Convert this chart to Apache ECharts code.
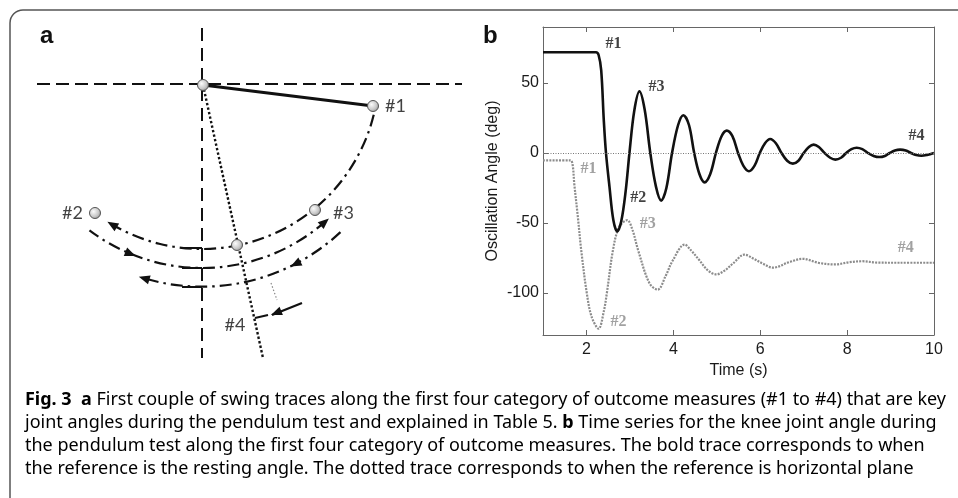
<!DOCTYPE html>
<html><head><meta charset="utf-8">
<script src="https://cdn.jsdelivr.net/npm/echarts@6/dist/echarts.min.js"></script>
<style>html,body{margin:0;padding:0;background:#fff}#chart{width:958px;height:498px}</style>
</head><body><div id="chart"></div>
<script>
// ---------------- Panel b : knee joint angle time series ----------------
const timeTicks = [2, 4, 6, 8, 10];
const angleTicks = [-100, -50, 0, 50];
// bold trace: reference = resting angle  [time (s), angle (deg)]
const restingRefTrace = [
  [1.0, 72], [2.22, 72], [2.28, 70], [2.34, 59], [2.40, 23], [2.45, 0], [2.53, -24], [2.62, -48],
  [2.71, -56], [2.80, -49], [2.90, -28], [2.99, 0], [3.10, 30], [3.22, 44], [3.34, 31], [3.47, 0],
  [3.60, -24], [3.72, -34], [3.84, -25], [3.97, 0], [4.11, 20], [4.23, 27], [4.36, 20], [4.48, 0],
  [4.60, -15], [4.72, -21], [4.85, -15], [4.98, 0], [5.11, 12], [5.23, 16], [5.36, 12], [5.49, 0],
  [5.61, -9], [5.74, -13], [5.87, -9], [5.99, 0], [6.11, 7], [6.23, 10], [6.36, 7], [6.49, 0],
  [6.62, -5.5], [6.75, -7.6], [6.88, -5.5], [7.00, 0], [7.12, 4.3], [7.23, 6], [7.35, 4.3], [7.48, 0],
  [7.61, -3.4], [7.73, -4.7], [7.86, -3.4], [7.98, 0], [8.10, 2.8], [8.22, 3.8], [8.35, 2.8], [8.48, 0],
  [8.61, -2.1], [8.74, -2.9], [8.87, -2.1], [8.98, 0], [9.10, 1.8], [9.22, 2.4], [9.35, 1.8], [9.47, 0],
  [9.59, -1.5], [9.71, -2.0], [9.84, -1.4], [10.0, 0]
];
// dotted trace: reference = horizontal plane
const horizontalRefTrace = [
  [1.0, -5.2], [1.63, -5.2], [1.68, -8], [1.72, -22], [1.80, -45], [1.88, -69.5], [2.01, -100.5],
  [2.12, -117], [2.28, -125.5], [2.40, -113], [2.47, -100], [2.61, -69.5], [2.75, -53], [2.94, -48],
  [3.06, -55], [3.19, -69.5], [3.45, -93], [3.64, -97.6], [3.82, -88], [3.99, -76.6], [4.26, -65.4],
  [4.42, -70], [4.60, -76.6], [4.80, -84], [4.99, -86.7], [5.18, -84], [5.37, -79], [5.64, -72.6],
  [5.85, -75.5], [6.06, -79], [6.29, -81.9], [6.68, -77.8], [6.98, -75.6], [7.35, -78.5], [7.72, -79.6],
  [8.05, -78], [8.35, -77.3], [8.70, -78.3], [9.20, -78.4], [10.0, -78.4]
];
const restingRefTags = [['#1', 2.62, 78], ['#3', 3.61, 47], ['#2', 3.19, -32], ['#4', 9.6, 12.6]];
const horizontalRefTags = [['#1', 2.05, -11], ['#3', 3.41, -50.4], ['#2', 2.74, -120.7], ['#4', 9.35, -67.6]];

// ---------------- Panel a : pendulum schematic (pivot-centred units) ----------------
const crossHairH = [[-165, 0], [260, 0]];
const crossHairV = [[0, 56], [0, -274]];
const restRod = [[1, -1], [171, -22]];
const plumbRod = [[1, -1], [61, -274]];
const angleMarks = [[[-20, -164], [0, -164]], [[-20, -184], [0, -184]], [[-20, -203], [0, -203]]];
const finalMark = [[53, -234], [66, -231]];
const faintGuide = [[69, -199], [75, -216]];
const finalArrow = [[100, -219], [70, -231]];
const markerBalls = [[1, -1], [171, -22], [-107, -129], [113, -126], [35, -161]];
// [cx, cy, r, startDeg, endDeg, midArrowDeg]
const swingArcs = [
  [0, 12, 177, -14, -121, null],
  [0, 3, 187, -127, -48.5, -112],
  [0, 0.3, 203, -47, -107, -63]
];
const diagramTags = [['#1', 183, -22, 'left'], ['#2', -119, -129, 'right'], ['#3', 131, -129, 'left'], ['#4', 33, -241, 'center']];

// ---------------- Caption ----------------
const captionLines = [
  [['b', 'Fig. 3'], ['n', '  '], ['b', 'a'], ['n', ' First couple of swing traces along the first four category of outcome measures (#1 to #4) that are key']],
  [['n', 'joint angles during the pendulum test and explained in Table '], ['l', '5'], ['n', '. '], ['b', 'b'], ['n', ' Time series for the knee joint angle during']],
  [['n', 'the pendulum test along the first four category of outcome measures. The bold trace corresponds to when']],
  [['n', 'the reference is the resting angle. The dotted trace corresponds to when the reference is horizontal plane']]
];

// ---- caption font: humanist sans, condensed horizontally to the original line width ----
const mctx = document.createElement('canvas').getContext('2d');
function hasFont(f) {
  const s = 'mmmmmmmmmmlliWWWabc';
  mctx.font = '40px monospace'; const a = mctx.measureText(s).width;
  mctx.font = '40px "' + f + '", monospace'; return Math.abs(mctx.measureText(s).width - a) > 0.5;
}
function segWidth(segs, fam, size) {
  let w = 0;
  for (const [k, t] of segs) { mctx.font = (k === 'b' ? 'bold ' : '') + size + 'px "' + fam + '"'; w += mctx.measureText(t).width; }
  return w;
}
const capFam = ['Noto Sans', 'Open Sans', 'Lato', 'Liberation Sans'].find(hasFont) || 'sans-serif';
const capSize = 18;
const capScaleX = Math.min(1, 921 / segWidth(captionLines[0], capFam, capSize));
const capRich = {
  n: { fontFamily: capFam, fontSize: capSize, color: '#231f20' },
  b: { fontFamily: capFam, fontSize: capSize, fontWeight: 'bold', color: '#231f20' },
  l: { fontFamily: capFam, fontSize: capSize, color: '#2b2bf0' }
};
const captionBaselines = [407, 430, 453, 476];
const captionGraphics = captionLines.map((segs, i) => ({
  type: 'text', x: 25, y: captionBaselines[i] - capSize * 0.92, scaleX: capScaleX, silent: true,
  style: { text: segs.map(([k, t]) => '{' + k + '|' + t + '}').join(''), rich: capRich, verticalAlign: 'top', align: 'left' }
}));

// ---------------- helpers ----------------
const ink = '#111';
const sansFam = 'Liberation Sans, Arial, sans-serif';
function seg(data, style) {
  return { type: 'line', xAxisIndex: 0, yAxisIndex: 0, data, symbol: 'none', silent: true,
    lineStyle: Object.assign({ color: ink, width: 2 }, style), z: 2 };
}
function head(tx, ty, dx, dy, L, W) {
  const n = Math.hypot(dx, dy); dx /= n; dy /= n;
  const bx = tx - dx * L, by = ty - dy * L;
  return { type: 'polygon', shape: { points: [[tx, ty], [bx - dy * W, by + dx * W], [bx + dy * W, by - dx * W]] }, style: { fill: ink } };
}

const option = {
  animation: false,
  backgroundColor: '#fff',
  graphic: [
    { type: 'rect', shape: { x: 10, y: 10, width: 990, height: 540, r: 13 }, style: { fill: 'none', stroke: '#555', lineWidth: 1.5 }, silent: true, z: -10 },
    { type: 'text', left: 40, top: 24, style: { text: 'a', fontFamily: sansFam, fontWeight: 'bold', fontSize: 24, fill: '#111' } },
    { type: 'text', left: 483, top: 24, style: { text: 'b', fontFamily: sansFam, fontWeight: 'bold', fontSize: 24, fill: '#111' } }
  ].concat(captionGraphics),
  grid: [
    { left: 37, top: 28, width: 425, height: 330, show: false },
    { left: 543, top: 27, width: 391, height: 308, show: false }
  ],
  xAxis: [
    { gridIndex: 0, type: 'value', min: -165, max: 260, show: false },
    { gridIndex: 1, type: 'value', min: 1, max: 10, position: 'bottom',
      axisLine: { show: true, onZero: false, lineStyle: { color: '#666', width: 1 } },
      axisTick: { show: true, inside: true, length: 5, customValues: timeTicks, lineStyle: { color: '#666' } },
      axisLabel: { customValues: timeTicks, margin: 7, color: '#1a1a1a', fontFamily: sansFam, fontSize: 16 },
      splitLine: { show: false },
      name: 'Time (s)', nameLocation: 'middle', nameGap: 25,
      nameTextStyle: { color: '#1a1a1a', fontFamily: sansFam, fontSize: 16 } },
    { gridIndex: 1, type: 'value', min: 1, max: 10, position: 'top',
      axisLine: { show: true, onZero: false, lineStyle: { color: '#666', width: 1 } },
      axisTick: { show: true, inside: true, length: 5, customValues: timeTicks, lineStyle: { color: '#666' } },
      axisLabel: { show: false }, splitLine: { show: false } }
  ],
  yAxis: [
    { gridIndex: 0, type: 'value', min: -274, max: 56, show: false },
    { gridIndex: 1, type: 'value', min: -130, max: 90, position: 'left',
      axisLine: { show: true, onZero: false, lineStyle: { color: '#666', width: 1 } },
      axisTick: { show: true, inside: true, length: 5, customValues: angleTicks, lineStyle: { color: '#666' } },
      axisLabel: { customValues: angleTicks, margin: 4, color: '#1a1a1a', fontFamily: sansFam, fontSize: 16 },
      splitLine: { show: false },
      name: 'Oscillation Angle (deg)', nameLocation: 'middle', nameGap: 42,
      nameTextStyle: { color: '#1a1a1a', fontFamily: sansFam, fontSize: 16 } },
    { gridIndex: 1, type: 'value', min: -130, max: 90, position: 'right',
      axisLine: { show: true, onZero: false, lineStyle: { color: '#666', width: 1 } },
      axisTick: { show: true, inside: true, length: 5, customValues: angleTicks, lineStyle: { color: '#666' } },
      axisLabel: { show: false }, splitLine: { show: false } }
  ],
  series: [
    seg(crossHairH, { type: [13, 6], width: 2 }),
    seg(crossHairV, { type: [13, 7], width: 2 }),
    seg(restRod, { width: 3.2 }),
    seg(plumbRod, { type: [2.4, 2.2], width: 2.4 }),
    ...angleMarks.map(m => seg(m, { width: 2 })),
    seg(finalMark, { width: 2.2 }),
    seg(faintGuide, { type: [1.5, 2], width: 1.2, color: '#888' }),
    seg(finalArrow, { width: 2.2 }),
    {
      type: 'custom', xAxisIndex: 0, yAxisIndex: 0, silent: true, z: 3,
      data: [finalArrow[0].concat(finalArrow[1])],
      encode: { x: 0, y: 1 },
      renderItem(params, api) {
        const a = api.coord([api.value(0), api.value(1)]), b = api.coord([api.value(2), api.value(3)]);
        return head(b[0] - 1, b[1], b[0] - a[0], b[1] - a[1], 11, 4.5);
      }
    },
    {
      type: 'custom', xAxisIndex: 0, yAxisIndex: 0, silent: true, z: 3,
      data: swingArcs, encode: { x: 0, y: 1 },
      renderItem(params, api) {
        const row = swingArcs[params.dataIndex];
        const c = api.coord([row[0], row[1]]);
        const rp = api.size([row[2], 0])[0];
        const d2r = Math.PI / 180;
        const s = -row[3] * d2r, e = -row[4] * d2r;
        const sign = row[4] > row[3] ? 1 : -1;
        const children = [{
          type: 'arc', shape: { cx: c[0], cy: c[1], r: rp, startAngle: Math.min(s, e), endAngle: Math.max(s, e), clockwise: true },
          style: { fill: 'none', stroke: ink, lineWidth: 2.2, lineDash: [12, 5, 2.5, 5] }
        }];
        const arrowAt = (deg) => {
          const t = deg * d2r;
          const px = c[0] + rp * Math.cos(t), py = c[1] - rp * Math.sin(t);
          const dx = sign > 0 ? -Math.sin(t) : Math.sin(t);
          const dy = sign > 0 ? -Math.cos(t) : Math.cos(t);
          return head(px + dx * 4, py + dy * 4, dx, dy, 11, 4.5);
        };
        children.push(arrowAt(row[4]));
        if (row[5] !== null && row[5] !== undefined) children.push(arrowAt(row[5]));
        return { type: 'group', children };
      }
    },
    {
      type: 'scatter', xAxisIndex: 0, yAxisIndex: 0, data: markerBalls, symbolSize: 11, silent: true, z: 6,
      itemStyle: { color: { type: 'radial', x: 0.38, y: 0.38, r: 0.7, colorStops: [{ offset: 0, color: '#fbfbfb' }, { offset: 0.6, color: '#c8c8c8' }, { offset: 1, color: '#8a8a8a' }] },
        borderColor: '#555', borderWidth: 1, opacity: 1 }
    },
    {
      type: 'scatter', xAxisIndex: 0, yAxisIndex: 0, symbolSize: 0, silent: true, z: 7,
      data: diagramTags.map(t => ({ name: t[0], value: [t[1], t[2]], label: { align: t[3] } })),
      label: { show: true, position: 'inside', formatter: '{b}', color: '#111', fontFamily: 'Lato, ' + sansFam, fontSize: 18 }
    },
    {
      type: 'line', xAxisIndex: 1, yAxisIndex: 1, data: horizontalRefTrace, symbol: 'none', smooth: 0.35, silent: true,
      lineStyle: { color: '#8c8c8c', width: 2.2, type: [2, 1.2] }, z: 3
    },
    {
      type: 'line', xAxisIndex: 1, yAxisIndex: 1, data: restingRefTrace, symbol: 'none', smooth: 0.35, silent: true,
      lineStyle: { color: '#111', width: 2.6 }, z: 4,
      markLine: { silent: true, symbol: ['none', 'none'], label: { show: false }, animation: false,
        lineStyle: { color: '#777', width: 1, type: [1, 1.5] }, data: [{ yAxis: 0 }] }
    },
    {
      type: 'scatter', xAxisIndex: 1, yAxisIndex: 1, symbolSize: 0, silent: true, z: 7,
      data: restingRefTags.map(t => ({ name: t[0], value: [t[1], t[2]] })),
      label: { show: true, position: 'inside', formatter: '{b}', color: '#111', fontFamily: 'Liberation Serif, Times New Roman, serif', fontWeight: 'bold', fontSize: 16 }
    },
    {
      type: 'scatter', xAxisIndex: 1, yAxisIndex: 1, symbolSize: 0, silent: true, z: 7,
      data: horizontalRefTags.map(t => ({ name: t[0], value: [t[1], t[2]] })),
      label: { show: true, position: 'inside', formatter: '{b}', color: '#8a8a8a', fontFamily: 'Liberation Serif, Times New Roman, serif', fontWeight: 'bold', fontSize: 16 }
    }
  ]
};
const chart = echarts.init(document.getElementById('chart'), null, { renderer: 'canvas' });
chart.setOption(option);
</script>
</body></html>
